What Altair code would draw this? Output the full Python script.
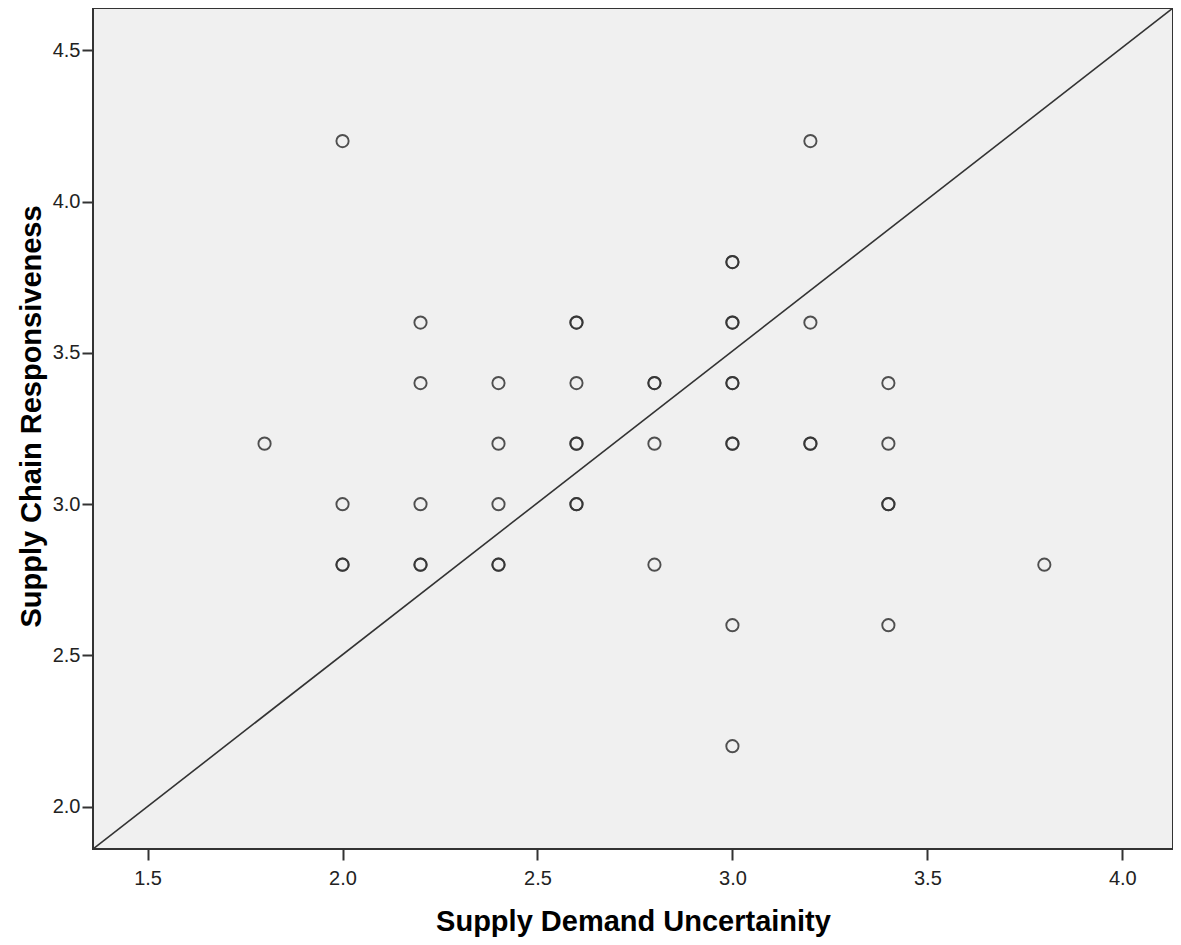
import altair as alt
import pandas as pd

# Data (duplicates = overlapping points)
sdu = [2.0, 3.2,
       3.0, 3.0,
       2.2, 2.6, 2.6, 3.0, 3.0, 3.2,
       2.2, 2.4, 2.6, 2.8, 2.8, 3.0, 3.0, 3.4,
       1.8, 2.4, 2.6, 2.6, 2.8, 3.0, 3.0, 3.2, 3.2, 3.4,
       2.0, 2.2, 2.4, 2.6, 2.6, 3.4, 3.4,
       2.0, 2.0, 2.2, 2.2, 2.4, 2.4, 2.8, 3.8,
       3.0, 3.4,
       3.0]
scr = [4.2, 4.2,
       3.8, 3.8,
       3.6, 3.6, 3.6, 3.6, 3.6, 3.6,
       3.4, 3.4, 3.4, 3.4, 3.4, 3.4, 3.4, 3.4,
       3.2, 3.2, 3.2, 3.2, 3.2, 3.2, 3.2, 3.2, 3.2, 3.2,
       3.0, 3.0, 3.0, 3.0, 3.0, 3.0, 3.0,
       2.8, 2.8, 2.8, 2.8, 2.8, 2.8, 2.8, 2.8,
       2.6, 2.6,
       2.2]

x_domain = [1.36, 4.13]
y_domain = [1.86, 4.64]
x_ticks = [1.5, 2.0, 2.5, 3.0, 3.5, 4.0]
y_ticks = [2.0, 2.5, 3.0, 3.5, 4.0, 4.5]
line_x = [1.36, 4.13]
line_y = [1.86, 4.64]

pts = pd.DataFrame({"x": sdu, "y": scr})
ref = pd.DataFrame({"x": line_x, "y": line_y})

font = "Liberation Sans"

xs = alt.Scale(domain=x_domain, nice=False, zero=False)
ys = alt.Scale(domain=y_domain, nice=False, zero=False)

x_axis = alt.Axis(values=x_ticks, format=".1f", grid=False, tickSize=11,
                  tickColor="#333333", tickWidth=2, domain=False,
                  labelFont=font, labelFontSize=20, labelColor="#222222",
                  labelPadding=8, titleFont=font, titleFontSize=29,
                  titleFontWeight="bold", titleColor="#000000", titlePadding=19)
y_axis = alt.Axis(values=y_ticks, format=".1f", grid=False, tickSize=11,
                  tickColor="#333333", tickWidth=2, domain=False,
                  labelFont=font, labelFontSize=20, labelColor="#222222",
                  labelPadding=2, titleFont=font, titleFontSize=29,
                  titleFontWeight="bold", titleColor="#000000", titlePadding=6,
                  titleY=408)

line = alt.Chart(ref).mark_line(color="#333333", strokeWidth=1.6, clip=True).encode(
    x=alt.X("x:Q", scale=xs, axis=x_axis, title="Supply Demand Uncertainity"),
    y=alt.Y("y:Q", scale=ys, axis=y_axis, title="Supply Chain Responsiveness"),
)

points = alt.Chart(pts).mark_point(shape="circle", filled=False, size=150,
                                   color="#333333", strokeWidth=1.9, opacity=0.85).encode(
    x=alt.X("x:Q", scale=xs),
    y=alt.Y("y:Q", scale=ys),
)

chart = (line + points).properties(
    width=1080, height=841,
    autosize=alt.AutoSizeParams(type="none"),
    padding={"left": 85, "top": 0, "right": 0, "bottom": 88},
).configure_view(
    fill="#F0F0F0", stroke="#333333", strokeWidth=2
)

chart.save("out.html", embed_options={"renderer": "svg", "actions": False})
